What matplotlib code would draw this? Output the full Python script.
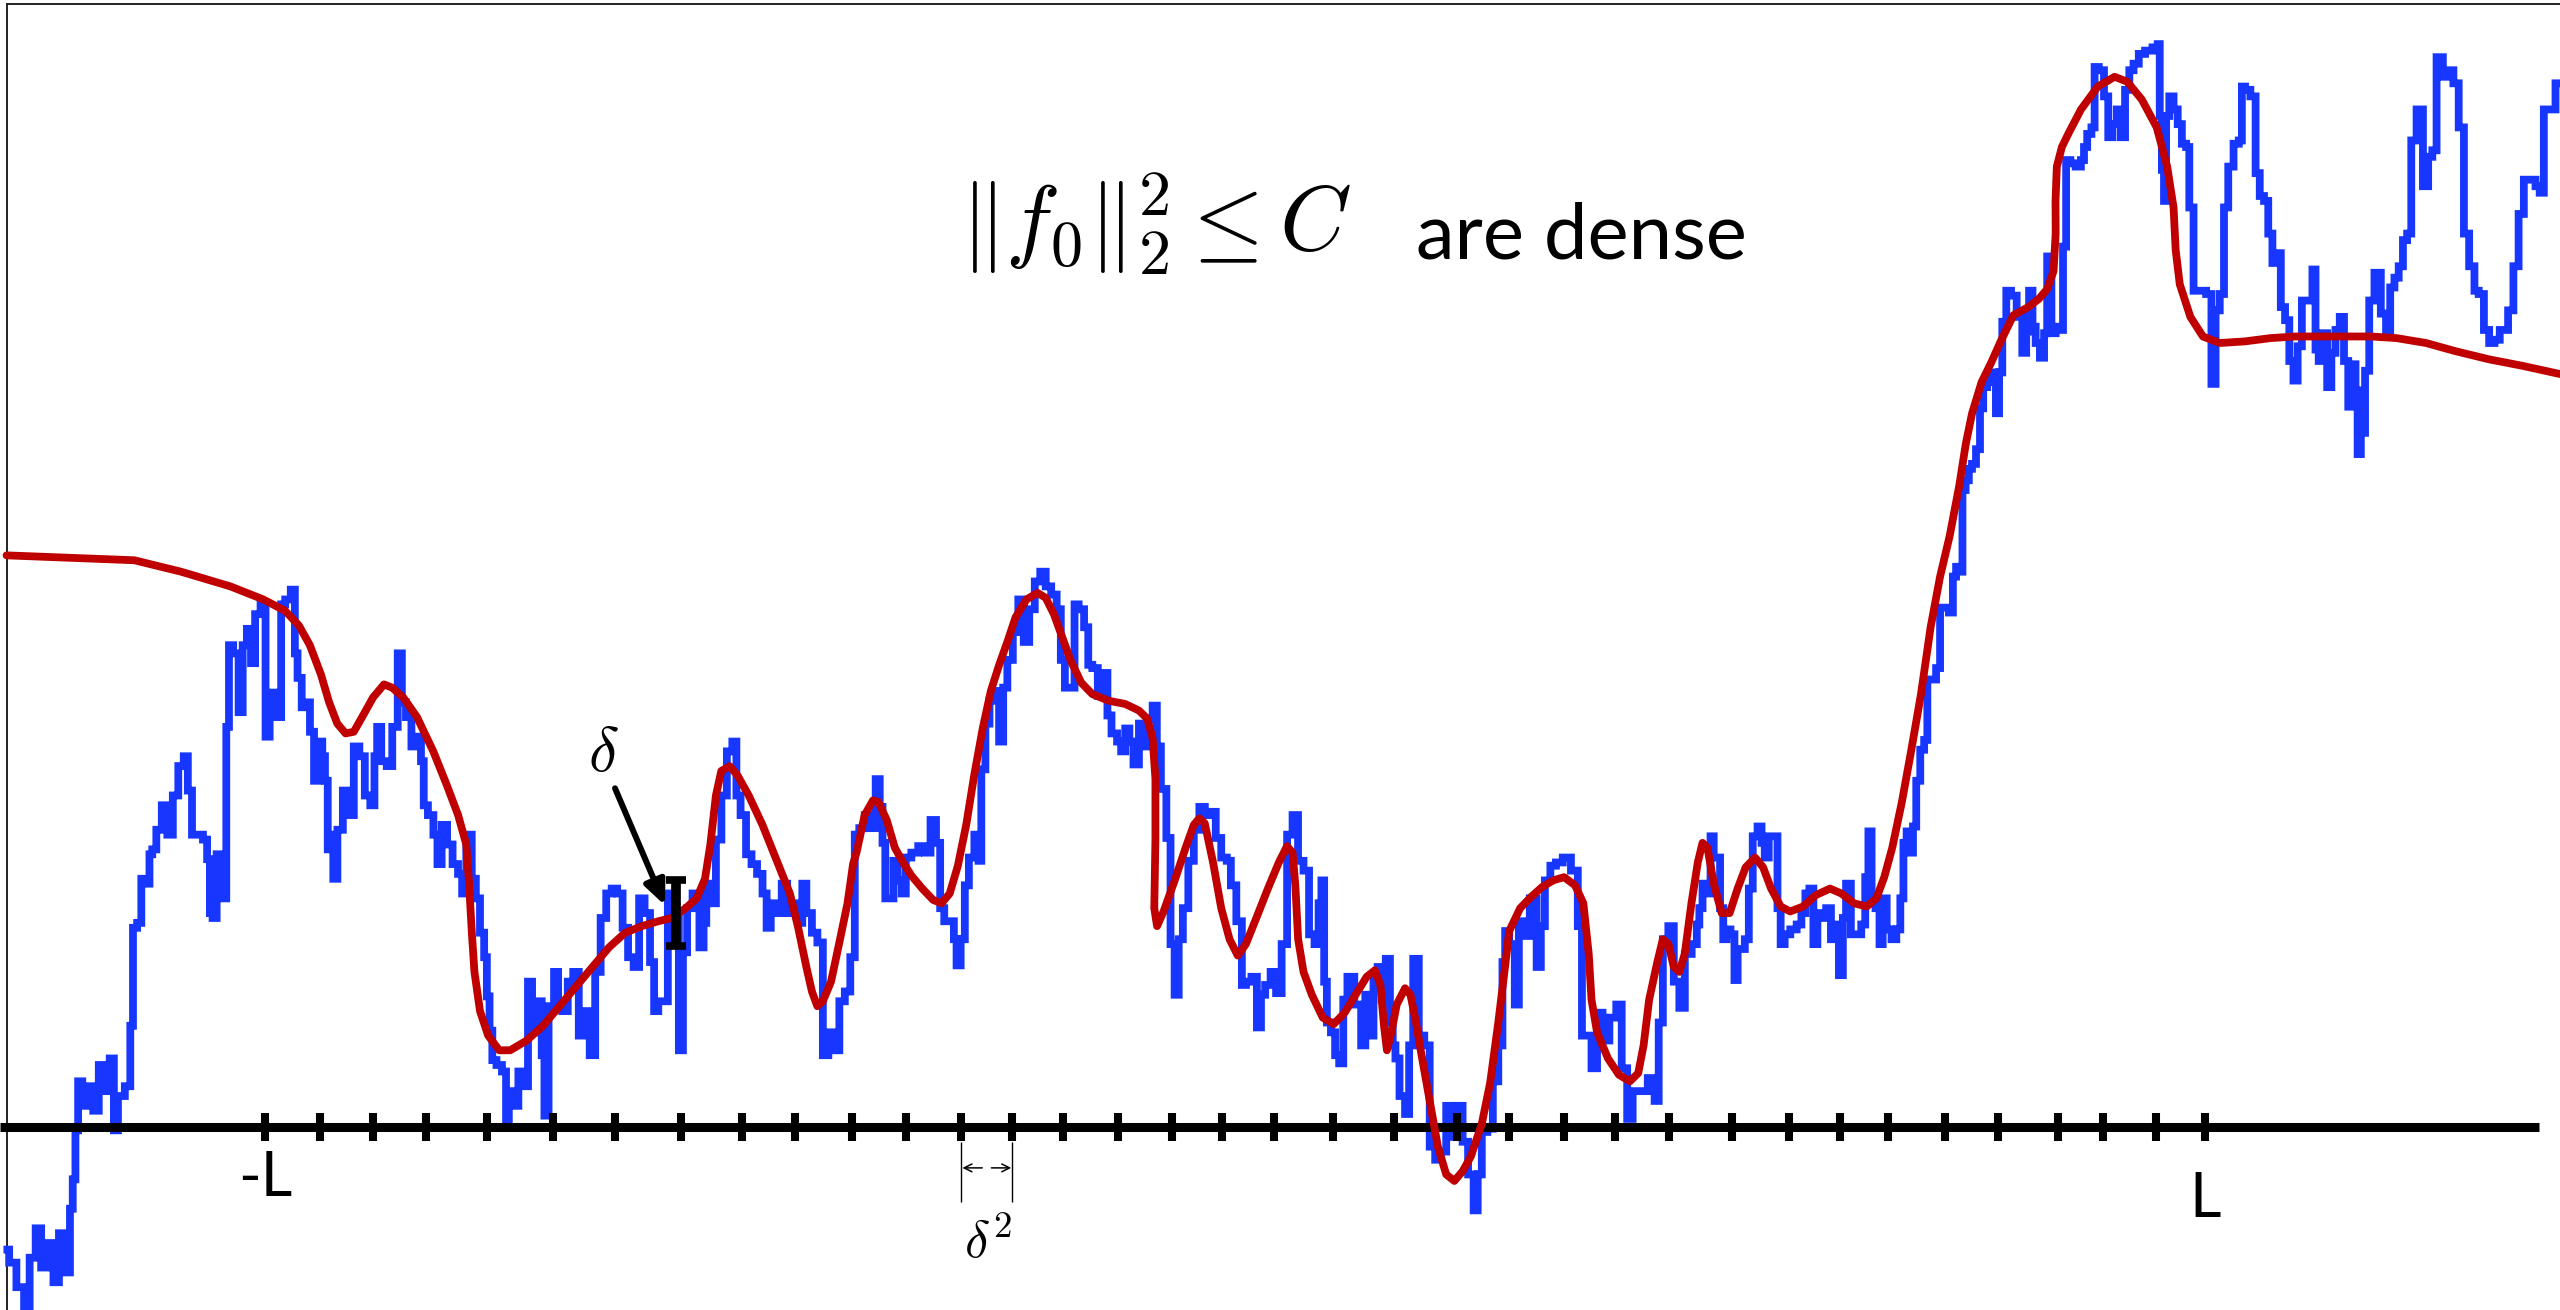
import numpy as np
import matplotlib
matplotlib.use("Agg")
import matplotlib.pyplot as plt

plt.rcParams["mathtext.fontset"] = "cm"

# Rough sample path: (position, height above the axis)
walk_pts = [
    (4.5, -75), (6.7, -83), (13.4, -98), (16.1, -110), (20.2, -80), (23.5, -62), (26.9, -86),
    (31.9, -71), (33.6, -95), (38.6, -65), (42.0, -89), (43.7, -50), (45.4, -32), (47.0, -2),
    (48.7, 28), (52.1, 13), (55.4, 25), (58.8, 10), (62.2, 38), (65.5, 22), (68.9, 42),
    (70.6, -2), (73.9, 19), (79.0, 25), (80.6, 62), (82.3, 122), (85.7, 125), (87.4, 152),
    (90.7, 149), (92.4, 167), (94.1, 170), (97.4, 182), (100.8, 197), (104.2, 179), (107.5, 203),
    (110.9, 221), (114.2, 227), (115.9, 206), (119.3, 179), (122.6, 179), (126.0, 176),
    (127.7, 164), (129.4, 131), (131.0, 128), (134.4, 167), (136.1, 152), (137.8, 140),
    (139.4, 245), (141.1, 295), (144.5, 290), (147.8, 254), (149.5, 295), (152.9, 305),
    (154.6, 284), (157.9, 314), (161.3, 320), (164.0, 239), (166.3, 263), (168.0, 266),
    (171.4, 251), (173.0, 320), (176.4, 323), (179.8, 329), (181.4, 290), (183.1, 275),
    (186.5, 257), (188.2, 260), (191.5, 242), (193.2, 212), (196.6, 236), (198.2, 227),
    (199.9, 212), (201.6, 170), (203.3, 179), (205.0, 152), (208.3, 182), (211.7, 206),
    (215.0, 191), (218.4, 233), (221.8, 227), (225.1, 203), (228.5, 197), (230.2, 227),
    (231.8, 245), (235.2, 224), (238.6, 221), (241.9, 245), (245.3, 290), (247.0, 260),
    (250.3, 251), (253.7, 233), (257.0, 239), (258.7, 224), (260.4, 197), (263.8, 191),
    (267.1, 179), (268.8, 161), (272.2, 185), (275.5, 173), (278.9, 161), (282.2, 155),
    (283.9, 143), (287.3, 179), (290.6, 152), (292.3, 140), (295.7, 119), (297.4, 104),
    (299.0, 80), (300.7, 59), (302.4, 41), (305.8, 38), (309.1, 34), (310.8, 4), (312.5, 22),
    (315.8, 13), (319.2, 34), (322.6, 25), (324.2, 89), (327.6, 58), (331.0, 77), (332.6, 44),
    (334.3, 7), (337.7, 74), (341.0, 95), (342.7, 77), (346.1, 71), (349.4, 89), (352.8, 95),
    (356.2, 56), (359.5, 71), (362.9, 44), (366.2, 95), (369.6, 128), (373.0, 143),
    (376.3, 146), (379.7, 143), (383.0, 122), (386.4, 104), (389.8, 98), (393.1, 140),
    (396.5, 131), (399.8, 101), (401.5, 71), (404.9, 77), (408.2, 77), (409.9, 143),
    (415.0, 131), (416.6, 47), (420.0, 107), (421.7, 134), (426.7, 143), (430.1, 110),
    (431.8, 125), (433.4, 149), (436.8, 137), (440.2, 176), (443.5, 203), (446.9, 230),
    (450.2, 236), (451.9, 203), (455.3, 191), (458.6, 167), (462.0, 161), (465.4, 155),
    (468.7, 143), (470.4, 122), (473.8, 137), (477.1, 131), (480.5, 149), (483.8, 131),
    (487.2, 137), (490.6, 125), (492.2, 149), (495.6, 131), (499.0, 119), (502.3, 113),
    (505.7, 44), (509.0, 58), (512.4, 47), (515.8, 77), (519.1, 83), (522.5, 104),
    (524.6, 179), (528.0, 183), (531.3, 191), (534.7, 183), (538.0, 213), (539.7, 196),
    (541.4, 174), (543.1, 140), (546.4, 140), (548.1, 163), (551.5, 151), (553.1, 143),
    (556.5, 165), (559.9, 168), (564.9, 172), (568.3, 168), (571.6, 188), (575.0, 174),
    (576.7, 134), (580.0, 126), (583.4, 126), (585.1, 115), (586.7, 99), (590.1, 115),
    (591.8, 148), (595.1, 165), (598.5, 179), (600.2, 163), (601.9, 219), (605.2, 247),
    (606.9, 261), (610.3, 267), (613.6, 236), (615.3, 269), (618.7, 286), (622.0, 303),
    (625.4, 323), (628.7, 297), (632.1, 317), (635.5, 334), (638.8, 340), (642.2, 331),
    (645.5, 326), (648.9, 317), (650.6, 286), (653.9, 269), (657.3, 269), (659.0, 320),
    (662.3, 317), (665.7, 306), (667.4, 283), (670.7, 281), (674.1, 264), (677.5, 278),
    (679.1, 252), (682.5, 241), (685.9, 236), (687.5, 230), (690.9, 244), (692.6, 236),
    (695.9, 222), (699.3, 247), (702.7, 233), (704.3, 250), (707.7, 258), (709.4, 233),
    (712.7, 207), (716.1, 177), (717.8, 112), (721.1, 81), (722.8, 115), (726.2, 134),
    (729.5, 163), (732.9, 182), (736.3, 196), (739.6, 191), (743.0, 193), (746.3, 177),
    (749.7, 165), (753.1, 163), (754.7, 148), (759.8, 126), (761.5, 87), (764.8, 89),
    (768.2, 92), (771.5, 61), (773.2, 81), (776.6, 87), (779.9, 95), (783.3, 82),
    (786.7, 112), (790.0, 179), (793.4, 191), (796.7, 163), (800.1, 157), (803.5, 118),
    (806.8, 112), (808.5, 137), (810.2, 151), (811.9, 89), (813.5, 64), (816.9, 58),
    (818.6, 44), (821.9, 39), (823.6, 78), (827.0, 92), (832.0, 75), (835.4, 50), (837.1, 81),
    (840.4, 56), (842.1, 92), (845.5, 98), (847.1, 78), (850.5, 103), (852.2, 64),
    (853.9, 50), (855.5, 42), (858.9, 19), (862.3, 8), (863.9, 50), (867.3, 103), (870.7, 56),
    (874.0, 50), (877.4, -12), (880.7, -20), (884.1, -15), (887.5, 13), (890.8, -6),
    (894.2, 13), (897.5, -9), (900.9, -29), (904.3, -51), (905.9, -29), (909.3, -3),
    (912.7, -1), (916.0, 28), (919.4, 50), (921.1, 101), (922.7, 120), (926.1, 112),
    (929.5, 75), (931.1, 126), (934.5, 117), (939.5, 140), (942.9, 98), (944.6, 123),
    (947.9, 151), (951.3, 160), (954.7, 162), (959.7, 165), (964.7, 157), (968.1, 123),
    (969.8, 56), (973.1, 56), (976.5, 36), (979.9, 70), (983.2, 53), (988.3, 67), (991.6, 75),
    (995.0, 36), (998.3, 5), (1001.7, 22), (1006.7, 22), (1011.8, 30), (1015.1, 16),
    (1016.8, 64), (1020.2, 115), (1023.5, 123), (1026.9, 89), (1030.3, 73), (1033.6, 106),
    (1038.7, 112), (1039.9, 124), (1041.8, 134), (1043.8, 149), (1046.7, 143), (1048.7, 178),
    (1050.6, 165), (1052.6, 165), (1054.5, 134), (1056.5, 115), (1058.4, 121), (1061.4, 118),
    (1063.3, 90), (1065.3, 109), (1067.2, 109), (1070.2, 115), (1072.1, 146), (1075.0, 178),
    (1078.0, 184), (1079.9, 174), (1081.9, 165), (1084.8, 178), (1087.7, 178), (1089.7, 134),
    (1091.6, 112), (1094.6, 118), (1098.5, 121), (1102.4, 124), (1104.3, 131), (1107.3, 143),
    (1109.2, 146), (1112.2, 112), (1114.1, 131), (1117.0, 128), (1120.0, 134), (1122.9, 115),
    (1124.9, 124), (1127.8, 93), (1129.7, 128), (1131.7, 149), (1135.6, 118), (1138.5, 118),
    (1141.5, 124), (1143.4, 153), (1145.4, 181), (1147.3, 137), (1150.2, 134), (1152.2, 112),
    (1154.1, 140), (1157.1, 121), (1160.0, 115), (1163.0, 121), (1164.9, 140), (1166.8, 174),
    (1168.8, 181), (1170.7, 168), (1172.7, 184), (1174.7, 212), (1177.6, 231), (1179.5, 237),
    (1181.5, 274), (1184.4, 274), (1187.3, 281), (1189.3, 318), (1192.2, 318), (1195.2, 315),
    (1197.1, 337), (1199.1, 343), (1201.0, 340), (1203.0, 390), (1204.9, 396), (1206.9, 403),
    (1208.8, 406), (1211.8, 415), (1213.7, 440), (1215.7, 453), (1218.6, 456), (1221.5, 462),
    (1223.5, 437), (1225.4, 462), (1227.4, 493), (1230.3, 512), (1233.2, 509), (1237.2, 496),
    (1240.1, 474), (1242.0, 487), (1243.6, 512), (1246.2, 490), (1247.5, 480), (1251.4, 471),
    (1252.6, 486), (1255.2, 533), (1257.8, 486), (1260.4, 490), (1263.0, 488), (1264.2, 539),
    (1266.8, 592), (1269.4, 590), (1273.3, 588), (1275.8, 592), (1277.1, 600), (1279.7, 608),
    (1282.3, 612), (1283.6, 649), (1287.4, 647), (1290.0, 631), (1292.6, 606), (1295.2, 614),
    (1297.8, 623), (1300.3, 606), (1302.9, 635), (1305.5, 647), (1308.1, 651), (1311.9, 657),
    (1315.8, 659), (1321.0, 661), (1322.2, 663), (1323.5, 619), (1324.8, 586), (1326.1, 567),
    (1327.4, 619), (1330.0, 631), (1332.6, 623), (1335.1, 614), (1337.7, 602), (1340.3, 600),
    (1341.6, 563), (1345.5, 512), (1349.3, 512), (1353.2, 510), (1355.8, 455), (1358.3, 500),
    (1360.9, 510), (1363.5, 563), (1366.1, 588), (1370.0, 602), (1372.5, 604), (1373.8, 637),
    (1376.4, 635), (1380.3, 631), (1382.8, 584), (1385.4, 570), (1388.0, 567), (1390.6, 547),
    (1393.1, 529), (1395.7, 535), (1398.3, 502), (1400.9, 494), (1403.5, 469), (1406.0, 457),
    (1408.6, 478), (1411.2, 506), (1415.1, 506), (1417.6, 525), (1418.9, 476), (1421.5, 469),
    (1424.1, 486), (1426.7, 453), (1429.2, 474), (1431.8, 488), (1434.4, 496), (1437.0, 469),
    (1439.6, 441), (1442.1, 467), (1443.4, 451), (1444.7, 412), (1447.3, 425), (1449.9, 463),
    (1452.4, 506), (1456.3, 523), (1460.2, 498), (1462.7, 486), (1465.3, 514), (1467.9, 520),
    (1470.5, 527), (1473.1, 543), (1475.6, 547), (1478.2, 604), (1482.1, 623), (1486.0, 576),
    (1488.5, 594), (1491.1, 598), (1493.7, 655), (1498.8, 643), (1501.4, 647), (1504.0, 639),
    (1507.9, 612), (1510.4, 547), (1514.3, 527), (1516.9, 512), (1519.5, 510), (1523.3, 488),
    (1525.9, 480), (1529.8, 482), (1532.4, 488), (1534.9, 488), (1537.5, 500), (1541.4, 527),
    (1543.9, 559), (1547.8, 580), (1551.7, 580), (1554.3, 576), (1556.8, 572), (1559.4, 623),
    (1563.3, 623), (1567.2, 639),
]

# Smooth function f_0 following the path
smooth_pts = [
    (4.0, 350), (82.3, 347), (110.9, 340), (141.1, 331), (161.3, 323), (174.7, 316),
    (183.1, 307), (189.8, 295), (196.6, 277), (201.6, 260), (206.6, 247), (211.7, 241),
    (216.7, 242), (221.8, 251), (228.5, 263), (235.2, 271), (240.2, 269), (247.0, 263),
    (255.4, 251), (265.4, 230), (273.8, 209), (280.6, 191), (285.6, 173), (287.3, 149),
    (289.0, 119), (290.6, 95), (294.0, 71), (299.0, 56), (305.8, 47), (312.5, 47), (322.6, 53),
    (332.6, 62), (342.7, 74), (352.8, 86), (362.9, 98), (373.0, 110), (383.0, 119),
    (393.1, 123), (403.2, 126), (411.6, 128), (420.0, 134), (426.7, 140), (431.8, 152),
    (435.1, 173), (438.5, 203), (441.8, 218), (446.9, 221), (451.9, 215), (458.6, 203),
    (467.0, 185), (475.4, 164), (483.8, 143), (488.9, 122), (493.9, 98), (497.3, 83),
    (500.6, 74), (504.0, 77), (509.0, 89), (514.1, 113), (519.1, 137), (522.5, 161),
    (524.6, 168), (529.6, 191), (534.7, 200), (538.0, 199), (543.1, 188), (548.1, 171),
    (553.1, 162), (558.2, 154), (564.9, 146), (571.6, 139), (576.7, 137), (581.7, 143),
    (586.7, 160), (591.8, 185), (596.8, 216), (601.9, 244), (606.9, 267), (612.0, 283),
    (617.0, 297), (622.0, 312), (628.7, 323), (635.5, 327), (640.5, 324), (645.5, 314),
    (650.6, 300), (655.6, 286), (662.3, 272), (669.1, 265), (679.1, 261), (689.2, 259),
    (697.6, 255), (702.7, 250), (706.0, 238), (707.7, 213), (707.7, 177), (707.0, 134),
    (708.7, 123), (712.7, 132), (719.5, 151), (726.2, 171), (731.2, 185), (734.6, 189),
    (737.9, 186), (743.0, 162), (748.0, 134), (753.1, 115), (758.1, 105), (763.1, 112),
    (769.9, 129), (776.6, 146), (783.3, 162), (788.3, 172), (791.7, 168), (793.4, 148),
    (795.1, 115), (798.4, 95), (803.5, 81), (810.2, 67), (816.9, 63), (823.6, 70),
    (830.3, 81), (837.1, 92), (842.1, 96), (845.5, 87), (847.8, 61), (849.5, 47), (852.2, 58),
    (855.5, 75), (860.6, 85), (863.9, 81), (867.3, 64), (870.7, 44), (875.7, 16),
    (880.7, -12), (885.8, -29), (890.8, -33), (895.9, -27), (900.9, -18), (907.6, 2),
    (912.7, 27), (917.7, 64), (921.1, 92), (924.4, 120), (931.1, 134), (937.9, 141),
    (944.6, 147), (951.3, 151), (958.0, 153), (964.7, 148), (969.8, 137), (973.1, 106),
    (974.8, 78), (978.2, 58), (984.9, 42), (991.6, 32), (998.3, 28), (1003.4, 33),
    (1006.7, 50), (1010.1, 78), (1015.1, 101), (1018.5, 115), (1021.9, 112), (1025.2, 98),
    (1028.6, 95), (1031.9, 106), (1036.0, 137), (1039.9, 162), (1042.8, 174), (1045.8, 171),
    (1049.7, 149), (1054.5, 131), (1059.4, 131), (1064.3, 146), (1069.2, 159), (1075.0, 165),
    (1079.9, 159), (1084.8, 146), (1090.7, 135), (1096.5, 132), (1104.3, 135), (1112.2, 142),
    (1120.9, 146), (1127.8, 143), (1135.6, 137), (1143.4, 135), (1149.3, 140), (1154.1, 153),
    (1159.0, 171), (1164.9, 199), (1170.7, 231), (1176.6, 265), (1182.5, 306), (1188.3, 337),
    (1194.2, 362), (1200.1, 393), (1204.0, 418), (1207.9, 437), (1213.7, 456), (1219.6, 468),
    (1225.4, 481), (1233.2, 497), (1242.3, 502), (1248.8, 507), (1253.9, 513), (1257.8, 524),
    (1259.1, 547), (1259.0, 567), (1259.8, 588), (1262.9, 600), (1266.8, 608), (1274.6, 623),
    (1284.9, 637), (1295.2, 643), (1302.9, 640), (1311.9, 629), (1321.0, 612), (1327.4, 588),
    (1331.3, 563), (1332.6, 537), (1335.1, 516), (1341.6, 496), (1349.3, 484), (1359.6, 480),
    (1375.1, 481), (1390.6, 483), (1406.0, 484), (1421.5, 484), (1437.0, 484), (1452.4, 484),
    (1467.9, 483), (1486.0, 480), (1504.0, 475), (1524.6, 470), (1545.2, 466), (1568.0, 461),
]

# Grid points between -L and L
grid_x = [162.3, 195.9, 228.7, 261.1, 298.0, 338.6, 376.8, 417.0, 454.7, 487.1, 522.0,
          555.2, 588.9, 620.0, 651.2, 684.8, 717.6, 748.7, 780.1, 816.6, 853.9, 892.4,
          924.0, 957.7, 989.3, 1022.5, 1061.1, 1095.5, 1127.1, 1156.2, 1191.1, 1223.8,
          1260.4, 1287.9, 1320.7, 1350.6]
end_labels = ["-L", "L"]
spacing_pair = (12, 13)          # grid indices bracketed by the delta^2 marker

# Band of half-width delta around f_0
delta_x = 413.8
delta_center = 131
delta_half = 20

title_math = r"$\|f_0\|_2^2 \leq C$"
title_words = "are dense"

fig = plt.figure(figsize=(25.6, 13.1), dpi=100)
ax = fig.add_axes([0, 0, 1, 1])
ax.set_xlim(0, 1568)
ax.set_ylim(-112, 690)
ax.axis("off")

# frame on the left and top
ax.plot([4.4, 4.4], [-112, 687.6], color="#222222", lw=1.4, zorder=1)
ax.plot([4.4, 1568], [687.6, 687.6], color="#222222", lw=1.4, zorder=1)

# rough path
wx, wy = np.array(walk_pts).T
ax.plot(wx, wy, color="#1736ff", lw=5.6, drawstyle="steps-mid",
        solid_joinstyle="miter", zorder=2)

# axis with grid ticks
ax.plot([0, 1555], [0, 0], color="black", lw=6.5, solid_capstyle="butt", zorder=3)
ax.vlines(grid_x, -8.5, 8.5, color="black", lw=5.8, zorder=3)

# smooth function
sx, sy = np.array(smooth_pts).T
ax.plot(sx, sy, color="#c00000", lw=5.6, solid_joinstyle="round",
        solid_capstyle="round", zorder=4)

# delta bar with arrow
ax.errorbar(delta_x, delta_center, yerr=delta_half, fmt="none", ecolor="black",
            elinewidth=7, capsize=7.5, capthick=5.5, zorder=5)
ax.annotate("", xy=(407.3, 135.7), xytext=(376.7, 207.4),
            arrowprops=dict(arrowstyle="-|>,head_length=0.45,head_width=0.2",
                            lw=4.3, color="black", mutation_scale=32,
                            shrinkA=0, shrinkB=0), zorder=5)
ax.text(369.5, 229, r"$\delta$", fontsize=46, ha="center", va="center", zorder=5)

# delta^2 spacing marker
xa, xb = grid_x[spacing_pair[0]], grid_x[spacing_pair[1]]
ax.vlines([xa, xb], -46, -9, color="black", lw=1.0, zorder=3)
mid = 0.5 * (xa + xb)
for tip, tail in ((xa + 0.6, mid - 2.8), (xb - 0.6, mid + 2.8)):
    ax.annotate("", xy=(tip, -25), xytext=(tail, -25),
                arrowprops=dict(arrowstyle="->", lw=1.1, mutation_scale=14,
                                shrinkA=0, shrinkB=0, color="black"))
ax.text(mid + 1, -80, r"$\delta^2$", fontsize=38, ha="center", va="baseline")

# end labels
ax.text(grid_x[0], -42, end_labels[0], fontsize=44, family="Lato",
        ha="center", va="baseline")
ax.text(grid_x[-1], -55, end_labels[1], fontsize=44, family="Lato",
        ha="center", va="baseline")

# heading
ax.text(588, 536, title_math, fontsize=66, ha="left", va="baseline")
ax.text(867, 532, title_words, fontsize=56, family="Lato", ha="left", va="baseline")

fig.savefig("out.png", dpi=100, facecolor="white")
